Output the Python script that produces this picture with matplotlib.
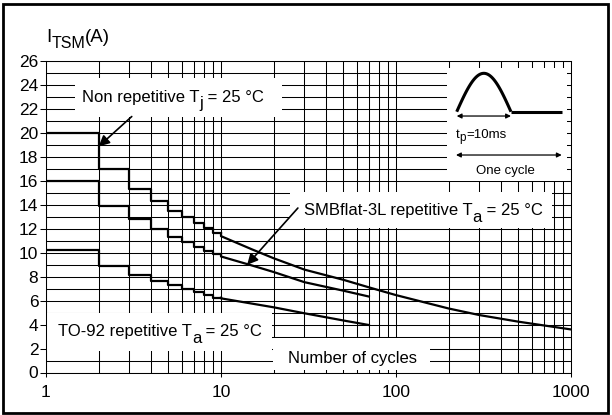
import matplotlib
matplotlib.use("Agg")
import matplotlib.pyplot as plt
import numpy as np
from matplotlib.patches import Rectangle
from matplotlib.ticker import FixedLocator, NullFormatter, NullLocator
from matplotlib.transforms import IdentityTransform

plt.rcParams['font.family'] = ['Liberation Sans', 'DejaVu Sans']
plt.rcParams['mathtext.fontset'] = 'custom'
plt.rcParams['mathtext.rm'] = 'Liberation Sans'
plt.rcParams['mathtext.it'] = 'Liberation Sans:italic'

# ---- data ----
step_cycles = [1, 2, 3, 4, 5, 6, 7, 8, 9, 10]
nonrep_steps = [20.0, 17.0, 15.3, 14.3, 13.5, 13.0, 12.5, 12.05, 11.65]
smb_steps = [16.0, 13.9, 12.8, 12.0, 11.35, 10.95, 10.5, 10.15, 9.9]
to92_steps = [10.25, 8.9, 8.15, 7.65, 7.3, 6.95, 6.7, 6.45, 6.25]

nonrep_cycles = [10, 15, 20, 30, 50, 70, 100, 200, 300, 500, 1000]
nonrep_curve = [11.4, 10.3, 9.55, 8.6, 7.75, 7.12, 6.47, 5.35, 4.8, 4.25, 3.6]
smb_cycles = [10, 15, 20, 30, 50, 70]
smb_curve = [9.7, 8.95, 8.4, 7.55, 6.84, 6.35]
to92_cycles = [10, 20, 30, 50, 70]
to92_curve = [6.2, 5.45, 4.95, 4.35, 3.97]

y_ticks = list(range(0, 27, 2))
x_ticks = [1, 10, 100, 1000]
x_ticklabels = ['1', '10', '100', '1000']

# ---- figure ----
W, H = 612, 415
fig = plt.figure(figsize=(W / 100, H / 100), dpi=100)
renderer = fig.canvas.get_renderer()
L, R, B, T = 46, 571, 372.5, 61.5
ax = fig.add_axes([L / W, 1 - B / H, (R - L) / W, (B - T) / H])
ax.set_xscale('log')
ax.set_xlim(1, 1000)
ax.set_ylim(0, 26)

# grid
minor_x = [m * 10 ** d for d in range(0, 3) for m in range(2, 10)]
for xv in minor_x + x_ticks:
    ax.axvline(xv, color='black', lw=0.75, zorder=1)
for yv in range(0, 27):
    ax.axhline(yv, color='black', lw=0.75, zorder=1)

ax.set_yticks(y_ticks)
ax.set_yticklabels([str(v) for v in y_ticks])
ax.xaxis.set_major_locator(FixedLocator(x_ticks))
ax.set_xticklabels(x_ticklabels)
ax.xaxis.set_minor_locator(NullLocator())
ax.xaxis.set_minor_formatter(NullFormatter())
ax.tick_params(axis='y', direction='out', length=4, width=0.75, labelsize=12.5, pad=1.5)
ax.tick_params(axis='x', direction='out', length=3, width=0.75, labelsize=12.5, pad=6)
for s in ax.spines.values():
    s.set_linewidth(0.75)


def wbox(x0, y0, x1, y1):
    ax.add_patch(Rectangle((x0, H - y1), x1 - x0, y1 - y0, transform=IdentityTransform(),
                           facecolor='white', edgecolor='none', zorder=2))


wbox(75, 78, 282, 117)      # Non repetitive
wbox(290, 192, 552, 228)    # SMBflat
wbox(46.5, 313, 272, 351)   # TO-92
wbox(273, 338, 430, 370)    # Number of cycles
wbox(447, 68, 567, 181)     # inset

# curves
lw = 1.6
for steps, cyc, curve in [(nonrep_steps, nonrep_cycles, nonrep_curve),
                          (smb_steps, smb_cycles, smb_curve),
                          (to92_steps, to92_cycles, to92_curve)]:
    ys = steps + [steps[-1]]
    ax.step(step_cycles, ys, where='post', color='black', lw=lw, zorder=4)
    ax.plot([step_cycles[-1]] + cyc, [steps[-1]] + curve, color='black', lw=lw, zorder=4)


def rich(cx, base_y, parts, ha='center'):
    """parts: (text, dy_px_down, fontsize); cx, base_y in pixel coords from top-left."""
    arts = []
    widths = []
    for s, dy, size in parts:
        t = fig.text(0, 0, s, fontsize=size, ha='left', va='baseline',
                     transform=IdentityTransform(), zorder=5)
        widths.append(t.get_window_extent(renderer).width)
        arts.append((t, dy))
    total = sum(widths)
    x = cx - total / 2 if ha == 'center' else cx
    for (t, dy), w in zip(arts, widths):
        t.set_position((x, H - base_y - dy))
        x += w


fs = 12
rich(173, 102, [('Non repetitive T', 0, fs), ('j', 6, fs), (' = 25 °C', 0, fs)])
rich(423, 215, [('SMBflat-3L repetitive T', 0, fs), ('a', 7, fs), (' = 25 °C', 0, fs)])
rich(160, 336, [('TO-92 repetitive T', 0, fs), ('a', 7, fs), (' = 25 °C', 0, fs)])
rich(352, 363, [('Number of cycles', 0, fs)])
rich(46, 41.7, [('I', 0, 13.5), ('TSM', 6.6, 11.5), ('(A)', 0, 13.5)], ha='left')

# arrows
ap = dict(arrowstyle='-|>', color='black', lw=1.2, mutation_scale=16, shrinkA=0, shrinkB=0)
ax.annotate('', xy=(2.0, 18.9), xytext=(3.09, 21.4), arrowprops=ap, zorder=6)
ax.annotate('', xy=(14.1, 9.0), xytext=(27.5, 13.75), arrowprops=ap, zorder=6)

# inset waveform
bx0, by0, bx1, by1 = 447, 68, 567, 181
ins = fig.add_axes([bx0 / W, 1 - by1 / H, (bx1 - bx0) / W, (by1 - by0) / H])
ins.set_xlim(0, 1)
ins.set_ylim(0, 1)
ins.axis('off')
ins.patch.set_alpha(0)
t = np.linspace(0, np.pi, 60)
xa, xb, xe = 0.081, 0.533, 0.956
base, peak = 0.613, 0.953
ins.plot(xa + (xb - xa) * t / np.pi, base + (peak - base) * np.sin(t), color='black', lw=2.2,
         solid_capstyle='butt')
ins.plot([xb, xe], [base, base], color='black', lw=2.2, solid_capstyle='butt')
ap2 = dict(arrowstyle='<|-|>', color='black', lw=0.9, mutation_scale=7, shrinkA=0, shrinkB=0)
ins.annotate('', xy=(xa, 0.575), xytext=(xb, 0.575), arrowprops=ap2)
ins.annotate('', xy=(0.075, 0.23), xytext=(xe, 0.23), arrowprops=ap2)
rich(456, 138.3, [('t', 0, 9.5), ('p', 3, 8.5), ('=10ms', 0, 9.5)], ha='left')
rich(505, 174.3, [('One cycle', 0, 9.5)])

# outer border
fig.add_artist(Rectangle((3 / W, 1 - 413 / H), 605 / W, 409 / H, transform=fig.transFigure,
                         facecolor='none', edgecolor='black', lw=2.0))

fig.savefig('out.png', dpi=100)
